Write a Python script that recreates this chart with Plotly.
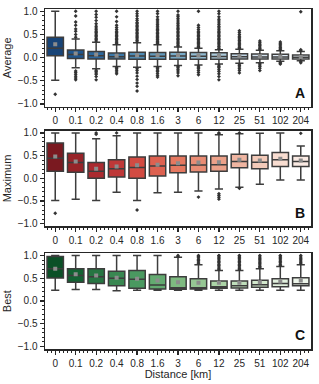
import colorsys
import plotly.graph_objects as go
import plotly.colors as pc

cats = ["0", "0.1", "0.2", "0.4", "0.8", "1.6", "3", "6", "12", "25", "51", "102", "204"]
ytick_vals = [-1.0, -0.5, 0.0, 0.5, 1.0]
ytick_text = ["\u22121.0", "\u22120.5", "0.0", "0.5", "1.0"]

# Panel A: Average
avg_q1 = [0.04, -0.02, -0.03, -0.03, -0.035, -0.035, -0.035, -0.035, -0.035, -0.03, -0.03, -0.03, -0.03]
avg_med = [0.20, 0.07, 0.04, 0.02, 0.035, 0.03, 0.035, 0.03, 0.025, 0.02, 0.015, 0.015, 0.01]
avg_q3 = [0.44, 0.165, 0.13, 0.10, 0.115, 0.11, 0.115, 0.11, 0.105, 0.085, 0.08, 0.075, 0.055]
avg_mean = [0.29, 0.09, 0.065, 0.04, 0.05, 0.05, 0.05, 0.045, 0.04, 0.035, 0.03, 0.025, 0.015]
avg_lo = [-0.49, -0.22, -0.24, -0.19, -0.21, -0.19, -0.17, -0.16, -0.14, -0.12, -0.11, -0.08, -0.07]
avg_hi = [1.0, 0.40, 0.33, 0.28, 0.32, 0.28, 0.23, 0.20, 0.17, 0.18, 0.16, 0.15, 0.13]
avg_out = [
    [-0.79],
    [0.44, 0.50, 0.57, 0.62, 0.70, 0.77, 0.90, 1.0, -0.29, -0.32, -0.36, -0.40, -0.44, -0.48],
    [0.36, 0.39, 0.42, 0.45, 0.48, 0.51, 0.54, 0.57, 0.60, 0.64, 0.68, 0.73, 0.80, 0.87, 0.93, 1.0,
     -0.27, -0.30, -0.33, -0.36, -0.41, -0.48],
    [0.30, 0.33, 0.36, 0.39, 0.42, 0.45, 0.48, 0.51, 0.54, 0.57, 0.61, 0.65, 0.70, 0.78, 0.88, 1.0,
     -0.21, -0.24, -0.27, -0.31, -0.35],
    [0.34, 0.37, 0.40, 0.43, 0.46, 0.49, 0.52, 0.55, 0.58, 0.61, 0.64, 0.67, 0.70, 0.73, 0.76, 0.80,
     0.84, 0.90, 0.95, 1.0, -0.24, -0.28, -0.33, -0.40, -0.47, -0.55, -0.62, -0.72],
    [0.30, 0.32, 0.35, 0.38, 0.40, 0.43, 0.46, 0.49, 0.52, 0.55, 0.58, 0.61, 0.64, 0.68, 0.71, 0.75,
     0.79, 0.83, 0.88, 0.95, 1.0, -0.21, -0.24, -0.27, -0.30, -0.34, -0.38, -0.42],
    [0.25, 0.27, 0.30, 0.33, 0.36, 0.39, 0.42, 0.45, 0.48, 0.51, 0.54, 0.57, 0.60, 0.63, 0.66, 0.70,
     0.73, 0.77, 0.81, 0.85, 0.89, 0.92, 1.0, -0.19, -0.22, -0.25, -0.29, -0.33, -0.39],
    [0.22, 0.24, 0.27, 0.30, 0.33, 0.36, 0.39, 0.42, 0.45, 0.48, 0.51, 0.54, 0.57, 0.61, 0.65, 0.70,
     1.0, -0.18, -0.21, -0.24, -0.28, -0.32, -0.37],
    [0.19, 0.21, 0.24, 0.27, 0.30, 0.33, 0.36, 0.39, 0.42, 0.45, 0.48, 0.51, 0.54, 0.57, 0.60, 0.64,
     0.67, 0.71, 0.75, 0.79, 0.83, 0.88, 0.95, 1.0, -0.16, -0.19, -0.22, -0.26, -0.30, -0.35, -0.41, -0.48],
    [0.20, 0.22, 0.25, 0.28, 0.31, 0.34, 0.37, 0.40, 0.43, 0.46, 0.50, 0.54, 0.58,
     -0.14, -0.17, -0.20, -0.24, -0.28, -0.33],
    [0.18, 0.20, 0.23, 0.26, 0.29, 0.32, 0.36, -0.13, -0.16, -0.19, -0.23, -0.28],
    [0.17, 0.19, 0.22, 0.25, 0.28, 0.31, 0.34, -0.10, -0.12, -0.14],
    [0.15, 0.17, 0.99, -0.09, -0.11],
]

# Panel B: Maximum
max_q1 = [0.155, 0.135, 0.0, 0.03, 0.0, 0.05, 0.12, 0.14, 0.155, 0.23, 0.21, 0.26, 0.26]
max_med = [0.44, 0.35, 0.155, 0.21, 0.235, 0.27, 0.285, 0.29, 0.30, 0.37, 0.355, 0.41, 0.37]
max_q3 = [0.78, 0.55, 0.35, 0.41, 0.47, 0.49, 0.49, 0.49, 0.49, 0.53, 0.51, 0.57, 0.49]
max_mean = [0.48, 0.37, 0.21, 0.26, 0.285, 0.30, 0.33, 0.35, 0.355, 0.41, 0.39, 0.43, 0.39]
max_lo = [-0.49, -0.465, -0.49, -0.31, -0.49, -0.32, -0.31, -0.28, -0.235, -0.20, -0.13, -0.04, -0.04]
max_hi = [1.0, 1.0, 0.87, 0.94, 1.0, 1.0, 1.0, 1.0, 0.96, 0.98, 0.99, 1.0, 0.71]
max_out = [
    [-0.77], [], [0.97, 1.0], [1.0], [-0.70], [], [], [-0.415],
    [0.99, 1.0, -0.34, -0.38, -0.42, -0.46], [1.0, -0.22], [], [], [0.99],
]

# Panel C: Best
best_q1 = [0.505, 0.41, 0.385, 0.335, 0.28, 0.265, 0.255, 0.265, 0.28, 0.285, 0.30, 0.31, 0.335]
best_med = [0.71, 0.56, 0.535, 0.50, 0.48, 0.35, 0.29, 0.29, 0.31, 0.335, 0.355, 0.385, 0.38]
best_q3 = [0.98, 0.71, 0.71, 0.655, 0.67, 0.585, 0.535, 0.49, 0.44, 0.44, 0.455, 0.49, 0.51]
best_mean = [0.71, 0.59, 0.56, 0.51, 0.49, 0.45, 0.41, 0.40, 0.40, 0.40, 0.41, 0.43, 0.45]
best_lo = [0.235, 0.25, 0.25, 0.225, 0.235, 0.235, 0.235, 0.235, 0.235, 0.235, 0.235, 0.235, 0.235]
best_hi = [1.0, 1.0, 1.0, 1.0, 1.0, 1.0, 0.96, 0.80, 0.67, 0.67, 0.71, 0.76, 0.80]
best_out = [
    [], [], [], [], [], [], [0.98, 1.0],
    [0.83, 0.86, 0.89, 0.92, 0.95, 0.98, 1.0],
    [0.69, 0.72, 0.75, 0.78, 0.81, 0.84, 0.87, 0.90, 0.93, 0.96, 0.99, 1.0],
    [0.69, 0.72, 0.75, 0.78, 0.81, 0.84, 0.87, 0.90, 0.93, 0.96, 0.99, 1.0],
    [0.73, 0.76, 0.79, 0.82, 0.85, 0.88, 0.91, 0.94, 0.97, 1.0],
    [0.78, 0.81, 0.84, 0.87, 0.90, 0.93, 0.96, 0.99, 1.0],
    [0.82, 0.85, 0.88, 0.91, 0.94, 0.97, 1.0],
]

panels = [
    ("Average", "Blues", "A", avg_q1, avg_med, avg_q3, avg_mean, avg_lo, avg_hi, avg_out),
    ("Maximum", "Reds", "B", max_q1, max_med, max_q3, max_mean, max_lo, max_hi, max_out),
    ("Best", "Greens", "C", best_q1, best_med, best_q3, best_mean, best_lo, best_hi, best_out),
]


def palette(name, n):
    scale = getattr(pc.sequential, name)
    pos = [(n - i) / (n + 1) for i in range(n)]
    cols = pc.sample_colorscale(scale, pos)
    out = []
    for c in cols:
        r, g, b = pc.unlabel_rgb(c)
        h, l, s = colorsys.rgb_to_hls(r / 255, g / 255, b / 255)
        r2, g2, b2 = colorsys.hls_to_rgb(h, l, s * 0.75)
        out.append("rgb(%d,%d,%d)" % (round(r2 * 255), round(g2 * 255), round(b2 * 255)))
    return out


FONT = "Liberation Sans, Arial, sans-serif"
TXT = "#262626"
EDGE = "#3d3d3d"

fig = go.Figure()
domains = [[0.7126, 1.0], [0.3607, 0.6422], [0.0, 0.2815]]
xpos = list(range(len(cats)))

for k, (title, cmap, letter, q1, med, q3, mean, lo, hi, outl) in enumerate(panels):
    xa = "x" if k == 0 else "x%d" % (k + 1)
    ya = "y" if k == 0 else "y%d" % (k + 1)
    cols = palette(cmap, len(cats))
    for i in range(len(cats)):
        fig.add_trace(go.Box(
            x=[xpos[i]], q1=[q1[i]], median=[med[i]], q3=[q3[i]],
            lowerfence=[lo[i]], upperfence=[hi[i]],
            fillcolor=cols[i], line=dict(color=EDGE, width=1.5),
            width=0.8, whiskerwidth=0.5, showlegend=False,
            xaxis=xa, yaxis=ya, hoverinfo="skip",
        ))
    ox, oy = [], []
    for i in range(len(cats)):
        for v in outl[i]:
            ox.append(xpos[i])
            oy.append(v)
    fig.add_trace(go.Scatter(
        x=ox, y=oy, mode="markers", xaxis=xa, yaxis=ya, showlegend=False,
        marker=dict(symbol="diamond", size=3, color="#333333", line=dict(width=0)),
        hoverinfo="skip",
    ))
    fig.add_trace(go.Scatter(
        x=xpos, y=mean, mode="markers", xaxis=xa, yaxis=ya, showlegend=False,
        marker=dict(symbol="square", size=4, color="#8c8c8c", line=dict(width=0)),
        hoverinfo="skip",
    ))
    axis_common = dict(showline=True, mirror=True, linecolor=TXT, linewidth=1.5,
                       ticks="outside", ticklen=4, tickwidth=1.2, tickcolor=TXT,
                       showgrid=False, zeroline=False,
                       tickfont=dict(family=FONT, size=10, color=TXT))
    xkey = "xaxis" if k == 0 else "xaxis%d" % (k + 1)
    ykey = "yaxis" if k == 0 else "yaxis%d" % (k + 1)
    fig.layout[xkey] = dict(
        axis_common, anchor=ya, domain=[0, 1], range=[-0.5, len(cats) - 0.5],
        tickmode="array", tickvals=xpos, ticktext=cats,
        minor=dict(tickmode="linear", tick0=0, dtick=0.2, ticks="outside",
                   ticklen=2, tickwidth=1, tickcolor=TXT),
        title=dict(text="Distance [km]" if k == 2 else "",
                   font=dict(family=FONT, size=11, color=TXT), standoff=2),
    )
    fig.layout[ykey] = dict(
        axis_common, anchor=xa, domain=domains[k], range=[-1.06, 1.05],
        tickmode="array", tickvals=ytick_vals, ticktext=ytick_text,
        minor=dict(tickmode="linear", tick0=0, dtick=0.1, ticks="outside",
                   ticklen=2, tickwidth=1, tickcolor=TXT),
        title=dict(text=title, font=dict(family=FONT, size=11, color=TXT), standoff=4),
    )
    fig.add_annotation(
        text="<b>%s</b>" % letter, xref="%s domain" % xa, yref="%s domain" % ya,
        x=0.985, y=0.04, xanchor="right", yanchor="bottom", showarrow=False,
        font=dict(family=FONT, size=14, color="#111111"),
    )

fig.update_layout(
    width=319, height=384, margin=dict(l=43, r=6, t=9, b=34),
    plot_bgcolor="white", paper_bgcolor="white", boxmode="overlay",
    font=dict(family=FONT, size=10, color=TXT),
)
fig.write_html(
    "out.html",
    config={"displayModeBar": False, "staticPlot": True},
    post_script="document.body.style.margin='0';document.body.style.overflow='hidden';",
)
